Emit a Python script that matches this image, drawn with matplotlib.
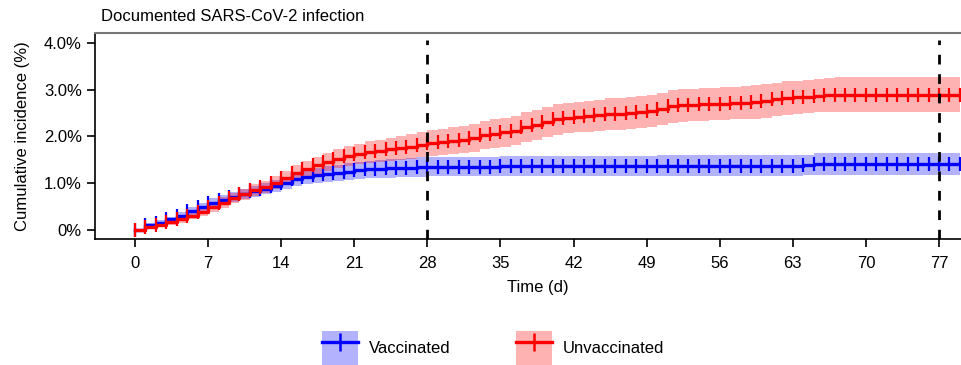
import numpy as np
import matplotlib.pyplot as plt
from matplotlib.patches import Patch
from matplotlib.lines import Line2D

plt.rcParams['font.family'] = ['Liberation Sans', 'DejaVu Sans']

# ================== DATA ==================

days = list(range(80))

# cumulative incidence (%) per day
vacc = [0.00, 0.10, 0.15, 0.22, 0.30, 0.40, 0.48, 0.58, 0.64, 0.70,
        0.76, 0.82, 0.88, 0.94, 1.00, 1.08, 1.12, 1.16, 1.19, 1.22,
        1.24, 1.27, 1.29, 1.30, 1.31, 1.32, 1.33, 1.34, 1.35, 1.35,
        1.35, 1.35, 1.35, 1.35, 1.35, 1.36, 1.36, 1.36, 1.36, 1.36,
        1.36, 1.36, 1.36, 1.36, 1.36, 1.36, 1.36, 1.36, 1.36, 1.36,
        1.37, 1.37, 1.37, 1.37, 1.37, 1.37, 1.37, 1.37, 1.37, 1.37,
        1.37, 1.37, 1.37, 1.37, 1.38, 1.40, 1.40, 1.40, 1.40, 1.40,
        1.40, 1.40, 1.40, 1.40, 1.40, 1.40, 1.40, 1.40, 1.40, 1.40]

unvacc = [0.00, 0.05, 0.10, 0.17, 0.22, 0.30, 0.38, 0.48, 0.58, 0.67,
          0.76, 0.85, 0.92, 1.00, 1.10, 1.22, 1.30, 1.38, 1.45, 1.52,
          1.58, 1.62, 1.66, 1.69, 1.72, 1.75, 1.78, 1.82, 1.86, 1.88,
          1.90, 1.93, 1.97, 2.02, 2.05, 2.08, 2.12, 2.20, 2.25, 2.30,
          2.36, 2.39, 2.41, 2.43, 2.45, 2.47, 2.48, 2.50, 2.52, 2.54,
          2.58, 2.64, 2.66, 2.67, 2.68, 2.69, 2.70, 2.71, 2.72, 2.73,
          2.75, 2.79, 2.82, 2.83, 2.85, 2.87, 2.88, 2.89, 2.89, 2.89,
          2.89, 2.89, 2.89, 2.89, 2.89, 2.89, 2.89, 2.89, 2.89, 2.89]

# 95% CI half-widths (%)
vacc_ci = [0.00, 0.04, 0.05, 0.06, 0.07, 0.08, 0.09, 0.10, 0.10, 0.11,
           0.11, 0.12, 0.12, 0.13, 0.13, 0.14, 0.15, 0.16, 0.17, 0.17,
           0.18, 0.18, 0.19, 0.19, 0.20, 0.20, 0.20, 0.21, 0.21, 0.21,
           0.21, 0.21, 0.21, 0.21, 0.21, 0.21, 0.21, 0.21, 0.21, 0.21,
           0.21, 0.21, 0.21, 0.22, 0.22, 0.22, 0.22, 0.22, 0.22, 0.22,
           0.22, 0.22, 0.22, 0.22, 0.22, 0.22, 0.22, 0.22, 0.22, 0.22,
           0.22, 0.22, 0.22, 0.22, 0.22, 0.24, 0.24, 0.24, 0.24, 0.24,
           0.24, 0.24, 0.24, 0.24, 0.24, 0.24, 0.24, 0.24, 0.24, 0.24]

unvacc_ci = [0.00, 0.03, 0.05, 0.06, 0.07, 0.08, 0.09, 0.10, 0.11, 0.11,
             0.12, 0.13, 0.13, 0.14, 0.15, 0.16, 0.17, 0.18, 0.19, 0.20,
             0.21, 0.22, 0.23, 0.24, 0.25, 0.25, 0.26, 0.27, 0.28, 0.28,
             0.29, 0.29, 0.30, 0.30, 0.31, 0.31, 0.31, 0.32, 0.32, 0.32,
             0.33, 0.33, 0.33, 0.33, 0.33, 0.34, 0.34, 0.34, 0.34, 0.34,
             0.35, 0.35, 0.35, 0.35, 0.35, 0.35, 0.35, 0.35, 0.36, 0.36,
             0.36, 0.36, 0.36, 0.36, 0.36, 0.36, 0.37, 0.37, 0.37, 0.37,
             0.37, 0.37, 0.37, 0.37, 0.37, 0.37, 0.37, 0.37, 0.37, 0.37]

x_ticks = [0, 7, 14, 21, 28, 35, 42, 49, 56, 63, 70, 77]
y_ticks = [0, 1, 2, 3, 4]
y_ticklabels = ["0%", "1.0%", "2.0%", "3.0%", "4.0%"]
cutoffs = [28, 77]

series = [
    ("Vaccinated", vacc, vacc_ci, "#0000ff"),
    ("Unvaccinated", unvacc, unvacc_ci, "#ff0000"),
]

# ================== PLOT ==================

fig = plt.figure(figsize=(9.61, 3.65), dpi=100)
ax = fig.add_axes([95 / 961, 1 - 239 / 365, 866 / 961, 206 / 365])

t = np.array(days)
handles = []
for label, est, ci, color in series:
    est = np.array(est)
    ci = np.array(ci)
    ax.fill_between(t, est - ci, est + ci, step="post",
                    color=color, alpha=0.3, linewidth=0)
    ax.step(t, est, where="post", color=color, linewidth=2.4)
    ax.plot(t, est, linestyle="none", marker="|", markersize=10,
            markeredgewidth=1.6, color=color)
    handles.append((Patch(facecolor=color, alpha=0.3, edgecolor="none"),
                    Line2D([], [], color=color, linewidth=2.4, marker="|",
                           markersize=13, markeredgewidth=1.8)))

for c in cutoffs:
    ax.vlines(c, -0.2, 4.06, colors="black", linewidth=2,
              linestyles=(0, (3.5, 3.5)))

ax.set_xlim(-40 / 10.4416, 826 / 10.4416)
ax.set_ylim(-0.2, 4.21)
ax.set_xticks(x_ticks)
ax.set_yticks(y_ticks)
ax.set_yticklabels(y_ticklabels)
ax.tick_params(labelsize=12, length=6, width=1.2, color="black")
ax.tick_params(axis="x", pad=6)

ax.spines["right"].set_visible(False)
ax.spines["top"].set_color("#777777")
ax.spines["top"].set_linewidth(1.5)
ax.spines["left"].set_linewidth(1.2)
ax.spines["bottom"].set_linewidth(1.2)

ax.set_xlabel("Time (d)", fontsize=12)
ax.xaxis.set_label_coords(0.511, -0.2)
ax.set_ylabel("Cumulative incidence (%)", fontsize=12, labelpad=10)
fig.text(101 / 961, 1 - 21 / 365, "Documented SARS-CoV-2 infection",
         fontsize=12, ha="left", va="baseline")

fig.legend(handles, [s[0] for s in series], loc="center",
           bbox_to_anchor=(493 / 961, 1 - 348 / 365), ncol=2, frameon=False,
           fontsize=12, handlelength=2.16, handleheight=2.85,
           handletextpad=0.66, columnspacing=3.9)

fig.savefig("out.png", dpi=100)
